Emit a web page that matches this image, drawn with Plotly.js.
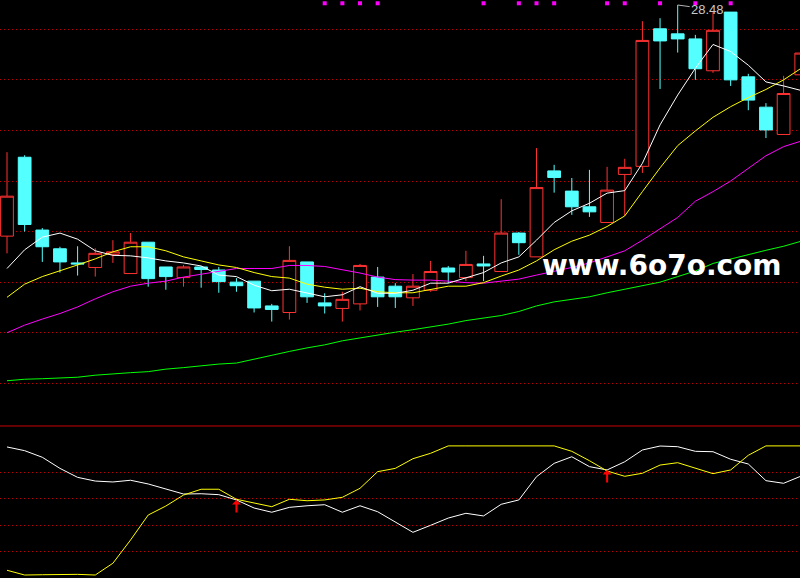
<!DOCTYPE html>
<html>
<head>
<meta charset="utf-8">
<script src="https://cdn.plot.ly/plotly-3.0.1.min.js"></script>
<style>
html,body{margin:0;padding:0;background:#000;}
#chart{width:800px;height:578px;}
</style>
</head>
<body>
<div id="chart"></div>
<script>
// trading day index
const days = [0,1,2,3,4,5,6,7,8,9,10,11,12,13,14,15,16,17,18,19,20,21,22,23,24,25,26,27,28,29,30,31,32,33,34,35,36,37,38,39,40,41,42,43,44,45];

// daily candles
const openP  = [23.91,25.47,24.03,23.66,23.38,23.29,23.55,23.17,23.79,23.30,23.09,23.30,23.24,23.00,23.02,22.53,22.40,23.40,22.59,22.48,22.57,23.10,22.92,22.69,22.84,23.28,23.09,23.36,23.21,23.97,23.50,25.20,24.80,24.49,24.18,25.13,25.29,28.01,27.91,27.81,27.18,28.34,27.06,26.46,25.92,27.10];
const highP  = [25.57,25.51,24.07,23.70,23.71,23.67,23.83,23.97,23.79,23.30,23.34,23.32,23.30,23.08,23.02,22.57,23.71,23.40,22.78,22.81,23.36,23.30,22.98,23.16,23.42,23.32,23.62,23.52,24.64,23.99,25.65,25.32,25.06,25.22,25.28,25.44,28.16,28.22,28.48,27.89,28.34,28.34,27.12,26.54,27.08,27.53];
const lowP   = [23.57,24.00,23.40,23.19,23.13,23.11,23.38,23.17,22.91,22.85,22.91,22.89,22.79,22.81,22.40,22.22,22.26,22.59,22.38,22.22,22.44,22.51,22.49,22.53,22.81,22.98,23.02,23.02,23.21,23.54,23.50,24.77,24.33,24.29,24.18,24.31,25.16,26.82,27.54,27.00,27.14,26.88,26.40,25.85,25.92,27.10];
const closeP = [24.70,24.14,23.70,23.40,23.36,23.57,23.60,23.79,23.07,23.11,23.30,23.25,23.01,22.93,22.49,22.46,23.43,22.71,22.53,22.66,23.33,22.71,22.71,22.92,23.21,23.20,23.35,23.32,23.97,23.78,24.87,25.07,24.49,24.39,24.82,25.27,27.78,27.77,27.81,27.22,27.98,27.00,26.60,26.01,26.73,27.53];

// moving averages
const ma5  = [23.27,23.64,23.89,23.97,23.85,23.62,23.53,23.52,23.48,23.42,23.38,23.32,23.14,23.11,22.94,22.83,22.86,22.79,22.71,22.75,22.91,22.78,22.78,22.84,22.98,22.98,23.08,23.19,23.38,23.50,23.83,24.18,24.41,24.56,24.76,24.81,25.35,26.11,26.70,27.23,27.70,27.56,27.29,26.96,26.88,26.79];
const ma10 = [22.70,22.96,23.11,23.22,23.34,23.46,23.60,23.70,23.70,23.62,23.50,23.42,23.34,23.29,23.19,23.11,23.08,22.96,22.90,22.86,22.88,22.81,22.79,22.79,22.86,22.92,22.92,22.99,23.12,23.24,23.42,23.64,23.81,23.93,24.10,24.31,24.79,25.26,25.70,25.99,26.26,26.47,26.65,26.81,27.00,27.23];
const ma20 = [22.00,22.15,22.27,22.38,22.51,22.67,22.81,22.92,22.98,23.02,23.10,23.16,23.21,23.27,23.27,23.27,23.33,23.33,23.31,23.25,23.18,23.10,23.05,23.04,23.04,23.02,22.99,22.98,23.02,23.06,23.14,23.21,23.29,23.38,23.50,23.62,23.83,24.06,24.28,24.60,24.79,25.00,25.25,25.50,25.68,25.79];
const ma60 = [21.05,21.08,21.09,21.10,21.12,21.16,21.19,21.21,21.23,21.28,21.31,21.35,21.38,21.40,21.48,21.56,21.63,21.70,21.76,21.84,21.90,21.96,22.01,22.06,22.11,22.17,22.24,22.29,22.34,22.42,22.53,22.61,22.66,22.71,22.79,22.86,22.92,23.00,23.11,23.22,23.37,23.46,23.54,23.63,23.71,23.81];

// signal days (magenta dots on top)
const signalDays = [18,19,20,21,27,29,30,31,34,35,37,39,41];

// lower indicator
const kLine = [99.2,96.4,91.4,83.0,76.2,73.4,72.7,74.0,71.2,67.6,63.6,63.8,63.1,59.1,53.0,49.8,53.5,54.7,55.5,49.8,54.7,50.2,42.6,34.6,39.9,45.4,49.0,47.0,55.8,59.1,76.7,86.8,91.8,84.3,81.8,88.0,96.9,99.9,99.4,95.9,95.6,89.9,86.3,73.7,71.7,77.2];
const dLine = [5.9,2.3,2.5,2.8,2.8,2.3,11.2,28.8,47.7,54.5,62.8,67.2,67.2,59.6,57.0,54.0,59.6,58.5,59.1,61.1,67.9,80.5,83.0,90.3,94.4,100,100,100,100,100,100,100,95.9,88.8,81.0,77.0,79.3,85.5,87.3,83.3,79.0,81.8,92.9,100,100,100];
const crossDays = [13,34];

// axis settings
const priceGrid = [21,22,23,24,25,26,27,28];
const indGrid = [20,40,60,80];
const mainRange = [20.274, 28.5794];
const indRange = [0.04, 115.06];
const xRange = [-0.3966, 44.929];

const gridColor = '#c00000';
const gridDash = '1px,3px';

// max high label
let maxIdx = 0;
for (let i = 1; i < highP.length; i++) if (highP[i] > highP[maxIdx]) maxIdx = i;

const sigLevel = mainRange[1] - 0.065;

const traces = [
  {
    type: 'candlestick', x: days, open: openP, high: highP, low: lowP, close: closeP,
    xaxis: 'x', yaxis: 'y', whiskerwidth: 0, hoverinfo: 'none',
    increasing: {line: {color: '#ff3232', width: 1}, fillcolor: '#000000'},
    decreasing: {line: {color: '#54ffff', width: 1}, fillcolor: '#54ffff'}
  },
  {type: 'scatter', mode: 'lines', x: days, y: ma60, line: {color: '#00ff00', width: 1}, hoverinfo: 'none'},
  {type: 'scatter', mode: 'lines', x: days, y: ma20, line: {color: '#ff00ff', width: 1}, hoverinfo: 'none'},
  {type: 'scatter', mode: 'lines', x: days, y: ma10, line: {color: '#ffff00', width: 1}, hoverinfo: 'none'},
  {type: 'scatter', mode: 'lines', x: days, y: ma5, line: {color: '#ffffff', width: 1}, hoverinfo: 'none'},
  {type: 'scatter', mode: 'markers', x: signalDays, y: signalDays.map(() => sigLevel),
   marker: {symbol: 'square', size: 4, color: '#ff00ff', line: {width: 0}}, hoverinfo: 'none'},
  {type: 'scatter', mode: 'lines', x: days, y: kLine, xaxis: 'x', yaxis: 'y2', line: {color: '#ffffff', width: 1}, hoverinfo: 'none'},
  {type: 'scatter', mode: 'lines', x: days, y: dLine, xaxis: 'x', yaxis: 'y2', line: {color: '#ffff00', width: 1}, hoverinfo: 'none'}
];

const annotations = [
  {
    x: days[maxIdx], y: highP[maxIdx], xref: 'x', yref: 'y',
    text: highP[maxIdx].toFixed(2), showarrow: true, arrowhead: 0, arrowwidth: 1,
    arrowcolor: '#b4b4b4', ax: 30, ay: 4,
    font: {family: 'Liberation Sans', size: 13, color: '#c8c8c8'}
  },
  {
    x: 0.8269, y: 0.5398, xref: 'paper', yref: 'paper', xanchor: 'center', yanchor: 'middle',
    text: 'www.6o7o.com', showarrow: false,
    font: {family: 'DejaVu Sans', size: 28, color: '#ffffff', weight: 'bold'}
  }
];
crossDays.forEach(d => {
  annotations.push({
    x: d, y: kLine[d], xref: 'x', yref: 'y2', text: '', showarrow: true,
    arrowhead: 1, arrowsize: 0.75, arrowwidth: 2, arrowcolor: '#ff0000', ax: 0, ay: 14
  });
});

const layout = {
  width: 800, height: 578,
  margin: {l: 0, r: 0, t: 0, b: 0, pad: 0},
  paper_bgcolor: '#000000', plot_bgcolor: '#000000',
  showlegend: false,
  boxgap: 0.15, boxgroupgap: 0.15,
  xaxis: {
    range: xRange, showgrid: false, zeroline: false, showticklabels: false, ticks: '',
    showline: false, rangeslider: {visible: false}, anchor: 'y2', fixedrange: true
  },
  yaxis: {
    domain: [0.27336, 1], range: mainRange, tickvals: priceGrid, showgrid: true,
    gridcolor: gridColor, griddash: gridDash, gridwidth: 1, showticklabels: false,
    zeroline: false, ticks: '', showline: false, fixedrange: true
  },
  yaxis2: {
    domain: [0, 0.26298], range: indRange, tickvals: indGrid, showgrid: true,
    gridcolor: gridColor, griddash: gridDash, gridwidth: 1, showticklabels: false,
    zeroline: false, ticks: '', showline: false, anchor: 'x', fixedrange: true
  },
  shapes: [
    {type: 'line', xref: 'paper', yref: 'y2 domain', x0: 0, x1: 1, y0: 1, y1: 1,
     line: {color: '#c80000', width: 1}}
  ],
  annotations: annotations
};

Plotly.newPlot('chart', traces, layout, {staticPlot: true, displayModeBar: false});
</script>
</body>
</html>
